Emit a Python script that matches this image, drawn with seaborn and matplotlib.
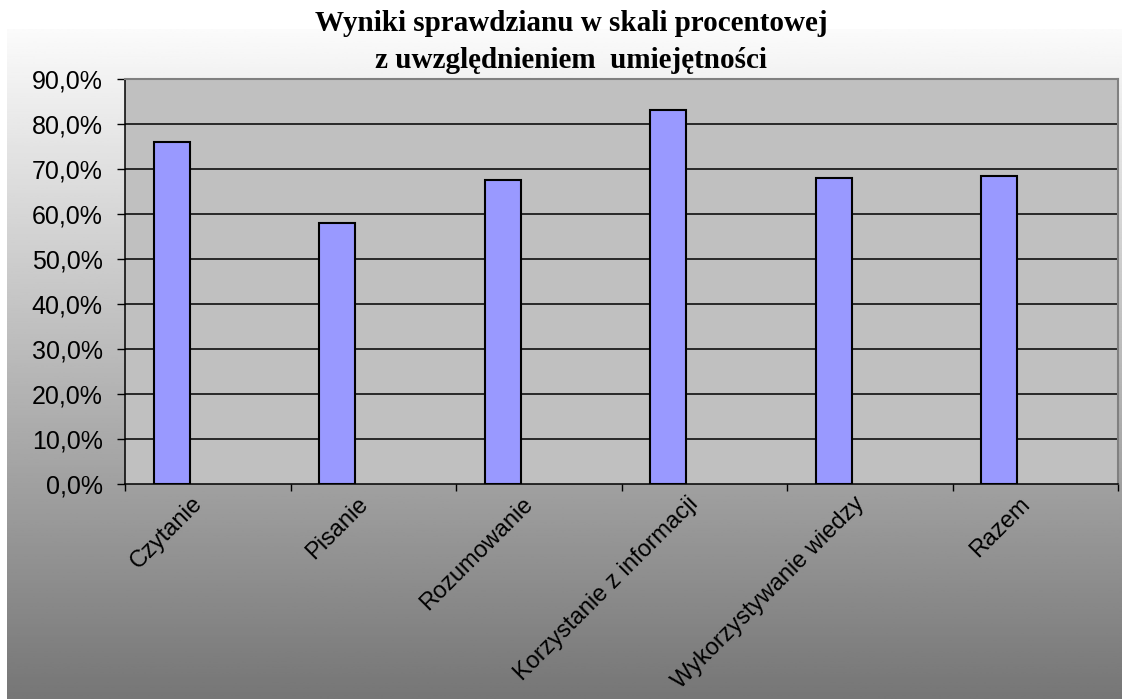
import numpy as np
import pandas as pd
import matplotlib
matplotlib.use("Agg")
import matplotlib.pyplot as plt
import seaborn as sns
from matplotlib.ticker import FuncFormatter, FixedLocator
from matplotlib.transforms import ScaledTranslation

# data
categories = ["Czytanie", "Pisanie", "Rozumowanie", "Korzystanie z informacji",
              "Wykorzystywanie wiedzy", "Razem"]
scores = [0.760, 0.579, 0.676, 0.831, 0.681, 0.685]
series_names = ["Seria1", "Seria2", "Seria3"]  # only the first one has values
y_ticks = [0.0, 0.1, 0.2, 0.3, 0.4, 0.5, 0.6, 0.7, 0.8, 0.9]

title = "Wyniki sprawdzianu w skali procentowej\nz uwzględnieniem  umiejętności"

df = pd.DataFrame({"kategoria": categories, "wynik": scores, "seria": series_names[0]})

sns.set_theme(style="white")
plt.rcParams["font.family"] = ["Liberation Sans", "DejaVu Sans"]
plt.rcParams["text.color"] = "black"
plt.rcParams["xtick.color"] = "black"
plt.rcParams["ytick.color"] = "black"

W, H = 1122, 699
fig = plt.figure(figsize=(W / 100, H / 100), dpi=100)
fig.patch.set_facecolor("white")

# gradient background of the chart area
bg = fig.add_axes([7 / W, 0, 1 - 7 / W, 1 - 29 / H], zorder=0)
grad = np.linspace(251, 118, 256).reshape(-1, 1) / 255.0
bg.imshow(np.repeat(grad, 2, axis=1), aspect="auto", cmap="gray", vmin=0, vmax=1,
          extent=[0, 1, 0, 1])
bg.set_axis_off()

ax = fig.add_axes([125 / W, 1 - 484 / H, (1118 - 125) / W, (484 - 79) / H], zorder=1)
ax.set_facecolor("#C0C0C0")

sns.barplot(data=df, x="kategoria", y="wynik", hue="seria", hue_order=series_names,
            order=categories, palette=["#9999FF", "#9999FF", "#9999FF"],
            dodge=True, width=0.655, saturation=1, edgecolor="black", linewidth=1.5,
            legend=False, errorbar=None, ax=ax, zorder=3)

ax.set_ylim(0, 0.9)
ax.set_xlim(-0.5, len(categories) - 0.5)
ax.yaxis.set_major_locator(FixedLocator(y_ticks))
ax.yaxis.set_major_formatter(FuncFormatter(lambda v, p: f"{v * 100:.1f}%".replace(".", ",")))
for t in y_ticks[1:-1]:
    ax.axhline(t, color="black", linewidth=1.1, zorder=1)

for side in ["top", "right"]:
    ax.spines[side].set_color("#808080")
    ax.spines[side].set_linewidth(1.5)
for side in ["left", "bottom"]:
    ax.spines[side].set_color("black")
    ax.spines[side].set_linewidth(1.1)

ax.tick_params(axis="y", which="major", direction="out", length=6, width=1,
               color="black", labelcolor="black", labelsize=18, pad=10, left=True)
ax.tick_params(axis="x", which="major", length=0, labelsize=17, pad=12,
               labelcolor="black")
ax.xaxis.set_minor_locator(FixedLocator(np.arange(len(categories) + 1) - 0.5))
ax.tick_params(axis="x", which="minor", direction="out", length=5, width=1,
               color="black", bottom=True)
shift = ScaledTranslation(-9 / 100, 0, fig.dpi_scale_trans)
for lab in ax.get_xticklabels():
    lab.set_rotation(45)
    lab.set_ha("right")
    lab.set_va("center")
    lab.set_rotation_mode("anchor")
    lab.set_transform(lab.get_transform() + shift)
ax.set_xlabel("")
ax.set_ylabel("")

fig.text(571 / W, 1 - 42 / H, title, ha="center", va="center", fontsize=21,
         fontweight="bold", color="black", family=["Liberation Serif", "DejaVu Serif"],
         linespacing=1.45)

fig.savefig("out.png", dpi=100)
